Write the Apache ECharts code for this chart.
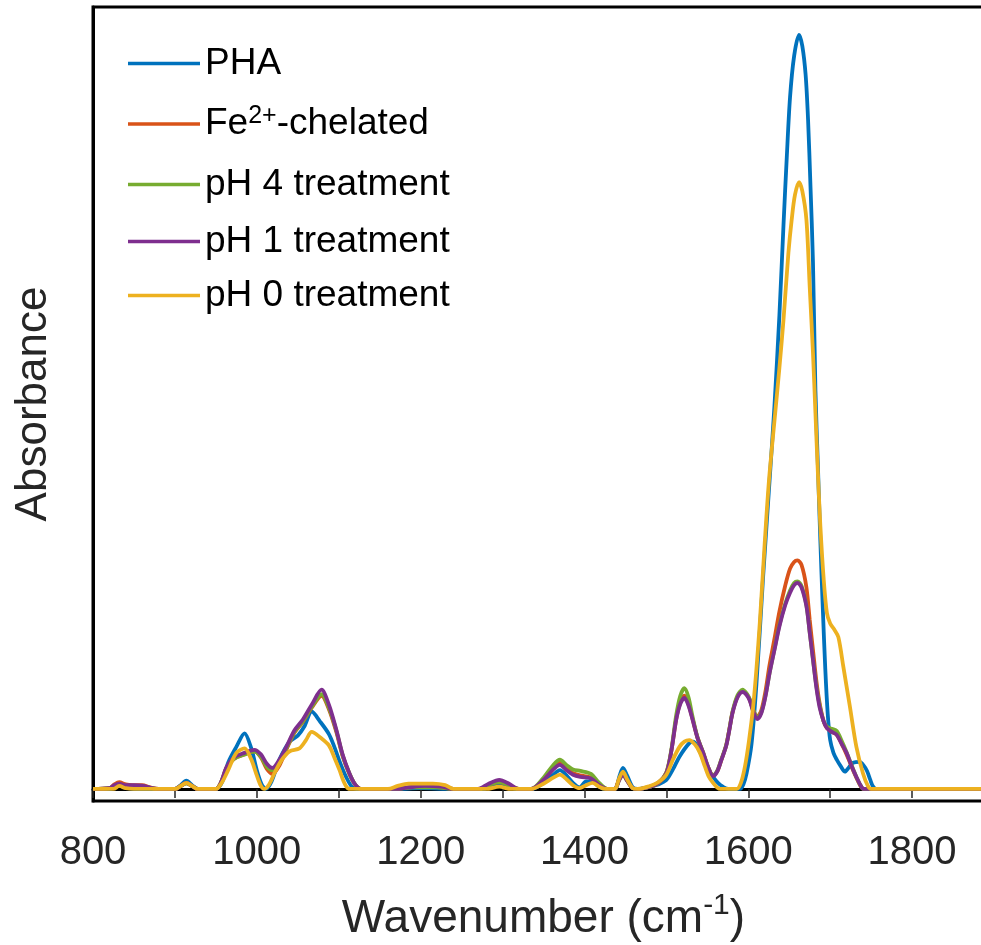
<!DOCTYPE html>
<html>
<head>
<meta charset="utf-8">
<script src="https://cdn.jsdelivr.net/npm/echarts@6/dist/echarts.min.js"></script>
<style>
html,body{margin:0;padding:0;background:#fff;}
#chart{width:981px;height:945px;}
</style>
</head>
<body>
<div id="chart"></div>
<script>
// Wavenumber (cm^-1) / absorbance (arbitrary units, PHA peak ~100)
const seriesNames = ['PHA', 'Fe2+-chelated', 'pH 4 treatment', 'pH 1 treatment', 'pH 0 treatment'];
const seriesColors = ['#0072BD', '#D95319', '#77AC30', '#7E2F8E', '#EDB120'];
const xTicks = [800, 1000, 1200, 1400, 1600, 1800];

const pha = [[800,0],[820,0],[832,0.4],[842,0.1],[855,0],[900,0],[907,0.5],[914,1.1],[921,0.5],[928,0],[950,0],[958,1.0],[965,3.5],[975,5.6],[985,7.4],[993,5.5],[1000,2.5],[1006,0.6],[1011,0],[1018,1.0],[1028,4.0],[1040,6.3],[1050,7.1],[1058,8.3],[1067,10.3],[1077,9.0],[1088,7.3],[1095,5.5],[1102,3.4],[1109,1.6],[1116,0.3],[1122,0],[1170,0],[1200,0.1],[1240,0],[1275,0],[1288,0.4],[1296,0.6],[1305,0.4],[1318,0],[1335,0],[1350,0.8],[1362,1.9],[1370,2.5],[1378,1.8],[1386,0.8],[1394,0.2],[1402,1.0],[1410,1.0],[1418,0.3],[1425,0],[1437,0],[1443,1.8],[1447,2.8],[1452,1.8],[1459,0.2],[1465,0],[1480,0.3],[1490,0.6],[1500,1.2],[1508,2.6],[1516,4.3],[1528,6.1],[1533,6.3],[1540,5.2],[1545,3.9],[1551,2.6],[1557,1.6],[1563,0.8],[1569,0.3],[1576,0],[1590,0],[1594,0.6],[1598,2.1],[1604,6.0],[1610,14],[1618,28],[1626,41],[1632,51],[1638,63],[1643,75],[1647,84],[1651,92],[1656,97.5],[1662,100.3],[1666,98.8],[1670,95],[1673,89],[1676,80],[1679,70],[1682,53],[1685,43],[1688,33],[1691,24],[1694,16],[1697,10],[1700,6.5],[1704,4.8],[1708,3.9],[1713,3.0],[1718,2.3],[1723,2.9],[1728,3.5],[1736,3.6],[1741,3.1],[1745,2.4],[1749,1.2],[1752,0.4],[1756,0],[1900,0]];

const fe = [[800,0],[820,0.1],[826,0.6],[832,0.9],[840,0.6],[848,0.5],[860,0.5],[870,0.2],[880,0],[900,0],[907,0.4],[914,0.8],[921,0.4],[928,0],[950,0],[956,0.8],[963,2.8],[972,4.0],[985,4.6],[997,5.0],[1005,4.2],[1012,2.7],[1019,2.0],[1027,3.0],[1036,5.2],[1046,7.5],[1056,8.9],[1067,10.8],[1079,12.4],[1088,10.6],[1097,7.6],[1105,4.3],[1113,2.0],[1120,0.6],[1127,0],[1170,0],[1185,0.2],[1205,0.3],[1225,0.2],[1240,0],[1272,0],[1285,0.6],[1296,0.9],[1308,0.5],[1320,0],[1335,0],[1350,1.3],[1362,2.8],[1370,3.5],[1378,2.8],[1386,2.1],[1395,1.8],[1408,1.5],[1418,0.6],[1428,0],[1437,0],[1442,1.2],[1447,2.0],[1452,1.2],[1459,0.1],[1465,0],[1480,0.3],[1490,0.8],[1500,2.2],[1506,5.0],[1512,9.3],[1517,11.5],[1522,12.4],[1527,11.3],[1532,9.3],[1538,6.8],[1545,4.8],[1551,2.9],[1557,1.8],[1562,2.3],[1567,3.8],[1573,5.8],[1577,8.0],[1581,10.3],[1587,12.3],[1593,13.0],[1598,12.6],[1602,11.8],[1606,10.5],[1611,9.6],[1616,10.5],[1621,13.0],[1626,16.5],[1632,20.0],[1638,23.6],[1645,27.0],[1651,29.3],[1656,30.2],[1660,30.4],[1665,29.8],[1671,26.8],[1675,22.5],[1679,18.5],[1683,14.5],[1687,11.5],[1692,9.0],[1696,8.1],[1702,7.6],[1708,7.2],[1714,6.0],[1720,4.6],[1726,3.0],[1732,1.5],[1737,0.4],[1741,0],[1900,0]];

const ph4 = [[800,0],[820,0.1],[826,0.4],[832,0.6],[840,0.4],[850,0.3],[862,0.3],[872,0.1],[880,0],[900,0],[907,0.4],[914,0.7],[921,0.4],[928,0],[950,0],[956,0.8],[963,2.8],[972,4.0],[985,4.6],[997,5.0],[1005,4.3],[1012,3.0],[1019,2.5],[1027,3.3],[1036,5.4],[1046,7.6],[1056,9.0],[1067,10.9],[1079,12.6],[1088,10.8],[1097,7.8],[1105,4.4],[1113,2.1],[1120,0.6],[1127,0],[1170,0],[1190,0.2],[1220,0.2],[1240,0],[1272,0],[1285,0.6],[1296,0.9],[1308,0.5],[1320,0],[1335,0],[1350,1.5],[1362,3.2],[1370,3.9],[1378,3.2],[1386,2.6],[1395,2.4],[1408,2.0],[1418,0.8],[1428,0],[1437,0],[1442,1.1],[1447,1.9],[1452,1.1],[1459,0.1],[1465,0],[1480,0.3],[1490,0.8],[1500,2.2],[1506,5.2],[1512,9.8],[1517,12.4],[1522,13.4],[1527,12.2],[1532,9.6],[1538,6.9],[1545,4.8],[1551,2.9],[1557,1.8],[1562,2.4],[1567,3.9],[1573,5.8],[1577,8.0],[1581,10.4],[1587,12.5],[1593,13.2],[1598,12.7],[1602,11.9],[1606,10.5],[1611,9.5],[1616,10.2],[1621,12.4],[1626,15.4],[1632,18.6],[1638,21.8],[1645,24.6],[1651,26.4],[1656,27.4],[1660,27.6],[1665,27.0],[1671,24.4],[1675,20.8],[1679,17.2],[1683,13.8],[1687,11.2],[1692,9.0],[1696,8.3],[1702,8.0],[1708,7.7],[1714,6.4],[1720,4.9],[1726,3.2],[1732,1.6],[1737,0.5],[1741,0],[1900,0]];

const ph1 = [[800,0],[820,0.1],[826,0.5],[832,0.7],[840,0.5],[850,0.5],[862,0.4],[872,0.1],[880,0],[900,0],[907,0.4],[914,0.8],[921,0.4],[928,0],[950,0],[956,0.8],[963,2.9],[972,4.2],[985,4.8],[997,5.2],[1005,4.6],[1012,3.4],[1019,2.8],[1027,3.8],[1036,5.6],[1046,7.8],[1056,9.2],[1067,11.2],[1079,13.2],[1088,11.2],[1097,7.9],[1105,4.5],[1113,2.1],[1120,0.6],[1127,0],[1170,0],[1185,0.2],[1205,0.4],[1225,0.3],[1240,0],[1270,0],[1283,0.7],[1296,1.2],[1308,0.7],[1320,0],[1335,0],[1350,1.2],[1362,2.6],[1370,3.2],[1378,2.5],[1386,1.9],[1395,1.6],[1408,1.4],[1418,0.5],[1428,0],[1437,0],[1442,1.1],[1447,1.9],[1452,1.1],[1459,0.1],[1465,0],[1480,0.3],[1490,0.8],[1500,2.1],[1506,5.0],[1512,9.2],[1517,11.3],[1522,12.1],[1527,11.1],[1532,9.2],[1538,6.8],[1545,4.8],[1551,2.9],[1557,1.7],[1562,2.3],[1567,3.8],[1573,5.7],[1577,7.9],[1581,10.2],[1587,12.2],[1593,12.9],[1598,12.5],[1602,11.7],[1606,10.3],[1611,9.3],[1616,10.1],[1621,12.3],[1626,15.4],[1632,18.5],[1638,21.6],[1645,24.4],[1651,26.1],[1656,27.1],[1660,27.4],[1665,26.8],[1671,24.3],[1675,20.8],[1679,17.2],[1683,13.6],[1687,10.9],[1692,9.0],[1696,8.1],[1702,7.6],[1708,7.2],[1714,6.0],[1720,4.8],[1726,3.1],[1732,1.6],[1737,0.5],[1741,0],[1900,0]];

const ph0 = [[800,0],[825,0],[832,0.4],[840,0.1],[850,0],[900,0],[907,0.4],[914,0.8],[921,0.4],[928,0],[950,0],[957,0.8],[965,2.5],[975,4.8],[985,5.4],[993,4.0],[1000,1.8],[1005,0.4],[1009,0],[1015,0.6],[1022,2.2],[1030,3.8],[1040,5.0],[1052,5.4],[1060,6.5],[1067,7.6],[1078,6.8],[1088,5.8],[1095,4.1],[1101,2.5],[1106,1.0],[1111,0.1],[1116,0],[1160,0],[1172,0.4],[1185,0.7],[1215,0.7],[1230,0.5],[1240,0],[1280,0],[1296,0.3],[1310,0],[1335,0],[1350,0.7],[1362,1.5],[1370,1.9],[1378,1.3],[1386,0.5],[1394,0.1],[1402,0.5],[1410,0.8],[1418,0.3],[1425,0],[1437,0],[1442,1.3],[1447,2.3],[1452,1.3],[1459,0.1],[1465,0],[1480,0.4],[1490,0.9],[1500,1.9],[1508,3.9],[1516,5.6],[1522,6.3],[1528,6.5],[1535,5.9],[1541,4.8],[1547,3.0],[1552,1.6],[1557,0.8],[1562,0.2],[1566,0],[1586,0],[1591,0.8],[1596,3.0],[1601,6.5],[1606,11.0],[1610,16],[1614,22],[1618,29],[1622,36],[1626,42],[1632,49],[1638,56],[1643,62.4],[1649,71.3],[1653,75.7],[1657,79],[1662,80.7],[1666,79.5],[1671,75.7],[1675,66.8],[1679,58.0],[1682,50],[1685,42],[1688,35],[1692,28],[1696,23.4],[1700,22.0],[1705,21.2],[1710,20.2],[1716,16.3],[1724,11.0],[1732,5.6],[1740,2.1],[1746,0.4],[1750,0],[1900,0]];

const seriesData = [pha, fe, ph4, ph1, ph0];

const FONT = '"Liberation Sans", Arial, Helvetica, sans-serif';
const TXT = '#262626';
const legendTops = [45, 104, 166, 223, 277];

const chart = echarts.init(document.getElementById('chart'), null, {renderer: 'canvas'});

const legends = seriesNames.map((n, i) => ({
  data: [n],
  left: 128,
  top: legendTops[i],
  padding: 0,
  orient: 'vertical',
  icon: 'rect',
  itemWidth: 72,
  itemHeight: 3.5,
  selectedMode: false,
  formatter: name => name === 'Fe2+-chelated' ? '{n|Fe}{s|2+}{n|-chelated}' : '{n|' + name + '}',
  textStyle: {
    color: '#000',
    fontFamily: FONT,
    rich: {
      n: {fontSize: 37, fontFamily: FONT, color: '#000', lineHeight: 40},
      s: {fontSize: 25, fontFamily: FONT, color: '#000', verticalAlign: 'top', lineHeight: 40}
    }
  }
}));

const option = {
  backgroundColor: '#fff',
  animation: false,
  legend: legends,
  grid: {left: 93, top: 7, right: -13, bottom: 144, show: true, borderColor: '#000', borderWidth: 3,
         containLabel: false, outerBoundsMode: 'none'},
  xAxis: {
    type: 'value', min: 800, max: 1900, interval: 100,
    name: '{t|Wavenumber (cm}{s|-1}{t|)}',
    nameLocation: 'middle', nameGap: 90,
    nameTextStyle: {
      rich: {
        t: {fontSize: 46, fontFamily: FONT, color: TXT, lineHeight: 56},
        s: {fontSize: 30, fontFamily: FONT, color: TXT, verticalAlign: 'top', lineHeight: 26}
      }
    },
    axisLine: {show: true, lineStyle: {color: '#000', width: 3}},
    axisTick: {show: true, inside: false, length: 9, lineStyle: {color: TXT, width: 1.5}},
    axisLabel: {
      fontSize: 40, fontFamily: FONT, color: TXT, margin: 32,
      showMaxLabel: false,
      formatter: v => (xTicks.indexOf(v) >= 0 ? String(v) : '')
    },
    splitLine: {show: false}
  },
  yAxis: {
    type: 'value', min: -1.6, max: 104,
    name: 'Absorbance', nameLocation: 'middle', nameGap: 37,
    nameTextStyle: {fontSize: 44, fontFamily: FONT, color: TXT},
    axisLine: {show: true, lineStyle: {color: '#000', width: 3}},
    axisTick: {show: false},
    axisLabel: {show: false},
    splitLine: {show: false}
  },
  series: seriesNames.map((n, i) => ({
    name: n,
    type: 'line',
    data: seriesData[i],
    smooth: 0.3,
    symbol: 'none',
    showSymbol: false,
    color: seriesColors[i],
    lineStyle: {color: seriesColors[i], width: 3.8},
    z: 2 + i
  }))
};
chart.setOption(option);
</script>
</body>
</html>
